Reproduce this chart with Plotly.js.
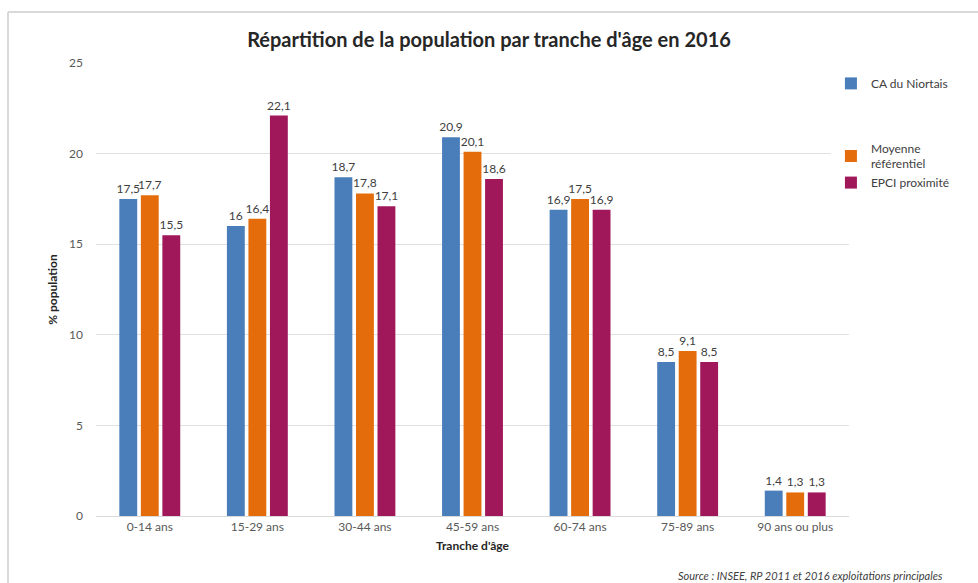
<!DOCTYPE html>
<html>
<head>
<meta charset="utf-8">
<script src="https://cdn.plot.ly/plotly-3.0.1.min.js"></script>
<style>
  html, body { margin: 0; padding: 0; background: #fff; }
  #chart { width: 978px; height: 583px; }
</style>
</head>
<body>
<div id="chart"></div>
<script>
// tranches d'âge
var categories = ['0-14 ans', '15-29 ans', '30-44 ans', '45-59 ans', '60-74 ans', '75-89 ans', '90 ans ou plus'];

// % population par série
var caNiortais = [17.5, 16, 18.7, 20.9, 16.9, 8.5, 1.4];
var moyenneRef = [17.7, 16.4, 17.8, 20.1, 17.5, 9.1, 1.3];
var epciProx = [15.5, 22.1, 17.1, 18.6, 16.9, 8.5, 1.3];

var seriesNames = ['CA du Niortais', 'Moyenne<br>référentiel', 'EPCI proximité'];
var seriesColors = ['#4a7ebb', '#e46c0a', '#a0175a'];
var legendGroups = ['a', 'b', 'b'];

function label(v) {
    return String(v).replace('.', ',');
}

var allSeries = [caNiortais, moyenneRef, epciProx];
var data = allSeries.map(function (vals, i) {
    return {
        type: 'bar',
        name: seriesNames[i],
        x: categories,
        y: vals,
        text: vals.map(label),
        textposition: 'outside',
        constraintext: 'none',
        cliponaxis: false,
        textfont: { family: 'Lato, sans-serif', size: 12, color: '#404040' },
        marker: { color: seriesColors[i] },
        legendgroup: legendGroups[i],
        hoverinfo: 'x+y'
    };
});

var layout = {
    width: 978,
    height: 583,
    margin: { l: 96, r: 129, t: 63, b: 67 },
    paper_bgcolor: '#ffffff',
    plot_bgcolor: '#ffffff',
    font: { family: 'Lato, sans-serif', color: '#595959', size: 12 },
    title: {
        text: "<b>Répartition de la population par tranche d'âge en 2016</b>",
        font: { family: 'Lato, sans-serif', size: 20, color: '#262626' },
        x: 0.5, xanchor: 'center',
        y: 1 - 40 / 583, yanchor: 'middle'
    },
    barmode: 'group',
    bargap: 0.4,
    bargroupgap: 0.17,
    showlegend: true,
    legend: {
        x: 0.976, xanchor: 'left',
        y: 0.987, yanchor: 'top',
        tracegroupgap: 46,
        font: { family: 'Lato, sans-serif', size: 12, color: '#404040' },
        itemwidth: 30
    },
    xaxis: {
        tickfont: { family: 'Lato, sans-serif', size: 12, color: '#595959' },
        showgrid: false,
        showline: true,
        linecolor: '#d9d9d9',
        linewidth: 1,
        ticks: '',
        title: {
            text: "<b>Tranche d'âge</b>",
            font: { family: 'Lato, sans-serif', size: 12, color: '#262626' },
            standoff: 8
        }
    },
    yaxis: {
        range: [0, 25],
        dtick: 5,
        tickfont: { family: 'Lato, sans-serif', size: 12, color: '#595959' },
        showgrid: true,
        gridcolor: '#e0e0e0',
        zeroline: false,
        ticks: '',
        ticklabelstandoff: 12,
        title: {
            text: '<b>% population</b>',
            font: { family: 'Lato, sans-serif', size: 12, color: '#262626' },
            standoff: 8
        }
    },
    shapes: [
        { type: 'line', xref: 'paper', yref: 'paper',
          x0: (8 - 96) / 753, x1: (978 - 96) / 753 + 0.01,
          y0: (516 - 12) / 453, y1: (516 - 12) / 453,
          line: { color: '#d9d9d9', width: 2 } },
        { type: 'line', xref: 'paper', yref: 'paper',
          x0: (8 - 96) / 753, x1: (8 - 96) / 753,
          y0: (516 - 12) / 453, y1: (516 - 590) / 453,
          line: { color: '#d9d9d9', width: 2 } }
    ],
    annotations: [
        { xref: 'paper', yref: 'paper',
          x: (945 - 96) / 753, xanchor: 'right',
          y: (516 - 575) / 453, yanchor: 'middle',
          text: '<i>Source : INSEE, RP 2011 et 2016 exploitations principales</i>',
          showarrow: false,
          font: { family: 'Lato, sans-serif', size: 11, color: '#404040' } }
    ]
};

Plotly.newPlot('chart', data, layout, { displayModeBar: false, responsive: false });
</script>
</body>
</html>
